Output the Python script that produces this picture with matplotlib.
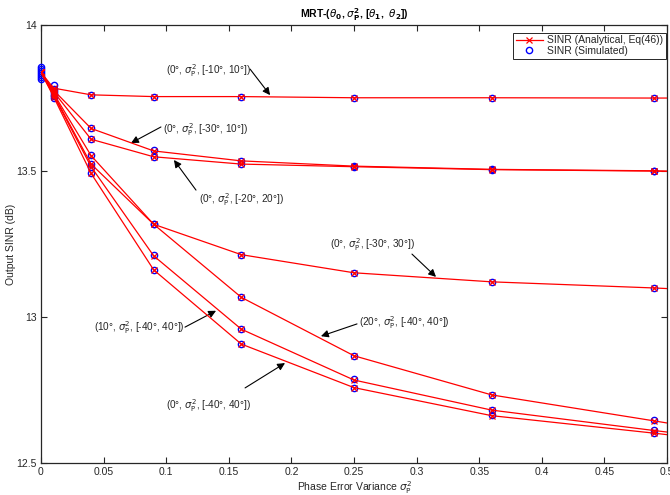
import matplotlib
matplotlib.use("Agg")
import matplotlib.pyplot as plt
from matplotlib.lines import Line2D

# ---------------- data ----------------
sigma2 = [0, 0.01, 0.04, 0.09, 0.16, 0.25, 0.36, 0.49]
sigma2_edge = 0.5  # analytical curve continues to the axis edge

labels = [
    "(0°, $\\sigma_{\\mathrm{P}}^{2}$, [-10°, 10°])",
    "(0°, $\\sigma_{\\mathrm{P}}^{2}$, [-30°, 10°])",
    "(0°, $\\sigma_{\\mathrm{P}}^{2}$, [-20°, 20°])",
    "(0°, $\\sigma_{\\mathrm{P}}^{2}$, [-30°, 30°])",
    "(20°, $\\sigma_{\\mathrm{P}}^{2}$, [-40°, 40°])",
    "(10°, $\\sigma_{\\mathrm{P}}^{2}$, [-40°, 40°])",
    "(0°, $\\sigma_{\\mathrm{P}}^{2}$, [-40°, 40°])",
]

analytical = [
    [13.838, 13.784, 13.761, 13.755, 13.755, 13.751, 13.751, 13.750],
    [13.838, 13.777, 13.646, 13.569, 13.535, 13.517, 13.506, 13.501],
    [13.838, 13.772, 13.609, 13.549, 13.524, 13.515, 13.505, 13.500],
    [13.838, 13.766, 13.553, 13.318, 13.214, 13.152, 13.121, 13.100],
    [13.838, 13.763, 13.524, 13.318, 13.068, 12.868, 12.734, 12.645],
    [13.838, 13.760, 13.515, 13.210, 12.959, 12.785, 12.682, 12.612],
    [13.838, 13.755, 13.492, 13.162, 12.908, 12.759, 12.663, 12.603],
]
analytical_edge = [13.750, 13.500, 13.499, 13.098, 12.638, 12.607, 12.598]

simulated = [
    [13.857, 13.795, 13.761, 13.755, 13.755, 13.751, 13.751, 13.750],
    [13.850, 13.780, 13.646, 13.571, 13.535, 13.518, 13.506, 13.502],
    [13.843, 13.775, 13.609, 13.549, 13.524, 13.515, 13.505, 13.500],
    [13.836, 13.768, 13.555, 13.320, 13.214, 13.152, 13.121, 13.100],
    [13.829, 13.762, 13.524, 13.318, 13.068, 12.868, 12.734, 12.648],
    [13.822, 13.757, 13.515, 13.212, 12.961, 12.787, 12.684, 12.614],
    [13.815, 13.750, 13.494, 13.162, 12.908, 12.759, 12.665, 12.603],
]

xticks = [0, 0.05, 0.1, 0.15, 0.2, 0.25, 0.3, 0.35, 0.4, 0.45, 0.5]
xticklabels = ["0", "0.05", "0.1", "0.15", "0.2", "0.25", "0.3", "0.35", "0.4", "0.45", "0.5"]
yticks = [12.5, 13, 13.5, 14]
yticklabels = ["12.5", "13", "13.5", "14"]

# annotation layout (text position, arrow tail, arrow head) in data units
ann_text = [(0.0998, 13.853), (0.0974, 13.651), (0.1262, 13.411), (0.2308, 13.257),
            (0.2540, 12.990), (0.0420, 12.973), (0.0998, 12.706)]
ann_tail = [(0.167, 13.849), (0.0958, 13.651), (0.1238, 13.435), (0.2963, 13.216),
            (0.2524, 12.977), (0.1150, 12.966), (0.163, 12.758)]
ann_head = [(0.183, 13.760), (0.0719, 13.596), (0.1062, 13.538), (0.3155, 13.138),
            (0.2236, 12.935), (0.1398, 13.022), (0.1949, 12.843)]

# ---------------- plot ----------------
plt.rcParams['font.family'] = ['Liberation Sans', 'DejaVu Sans']
plt.rcParams['mathtext.fontset'] = 'dejavusans'
txtc = '0.15'

fig = plt.figure(figsize=(6.7, 4.95), dpi=100)
ax = fig.add_axes([41/670, 1-463.3/495, (667-41)/670, (463.3-25)/495])

for a, ae, s in zip(analytical, analytical_edge, simulated):
    ax.plot(sigma2, s, linestyle='none', marker='o', mfc='none', mec='blue',
            ms=4.5, mew=1.0, zorder=3, clip_on=False)
    ax.plot(sigma2 + [sigma2_edge], a + [ae], color='red', lw=0.9, marker='x',
            ms=4, mew=0.9, markevery=list(range(len(sigma2))), zorder=4, clip_on=True)

for lab, t, tail, head in zip(labels, ann_text, ann_tail, ann_head):
    ax.text(t[0], t[1], lab, fontsize=7.2, color=txtc,
            ha='left', va='center_baseline')
    ax.annotate('', xy=head, xytext=tail,
                arrowprops=dict(arrowstyle='-|>', color='k', lw=0.8,
                                mutation_scale=11, shrinkA=0, shrinkB=0))

ax.set_xlim(0, 0.5)
ax.set_ylim(12.5, 14)
ax.set_xticks(xticks)
ax.set_xticklabels(xticklabels)
ax.set_yticks(yticks)
ax.set_yticklabels(yticklabels)
ax.tick_params(direction='in', top=True, right=True, length=4, width=0.8,
               labelsize=7.5, colors=txtc, pad=3)
for sp in ax.spines.values():
    sp.set_color('0.15')
    sp.set_linewidth(0.9)

ax.set_xlabel("Phase Error Variance $\\sigma_{\\mathrm{P}}^{2}$", fontsize=7.5, color=txtc, labelpad=1)
ax.set_ylabel("Output SINR (dB)", fontsize=7.5, color=txtc)
ax.yaxis.set_label_coords(-0.040, 0.5)
ax.set_title("MRT-($\\theta_{\\mathbf{0}}$, $\\sigma_{\\mathbf{P}}^{\\mathbf{2}}$, [$\\theta_{\\mathbf{1}}$,  $\\theta_{\\mathbf{2}}$])",
             fontsize=7.5, fontweight='bold', color='k', pad=5)

handles = [Line2D([], [], color='red', lw=0.9, marker='x', ms=4, mew=0.9),
           Line2D([], [], linestyle='none', marker='o', mfc='none', mec='blue', ms=4.5, mew=1.0)]
leg = ax.legend(handles, ["SINR (Analytical, Eq(46))", "SINR (Simulated)"],
                loc='upper right', bbox_to_anchor=(0.998, 0.982), fontsize=7.5,
                frameon=True, fancybox=False, edgecolor='0.15', framealpha=1,
                borderpad=0.25, labelspacing=0.05, handlelength=2.6,
                handletextpad=0.4, borderaxespad=0.0)
leg.get_frame().set_linewidth(0.7)
for t in leg.get_texts():
    t.set_color(txtc)

fig.savefig("out.png", dpi=100)
